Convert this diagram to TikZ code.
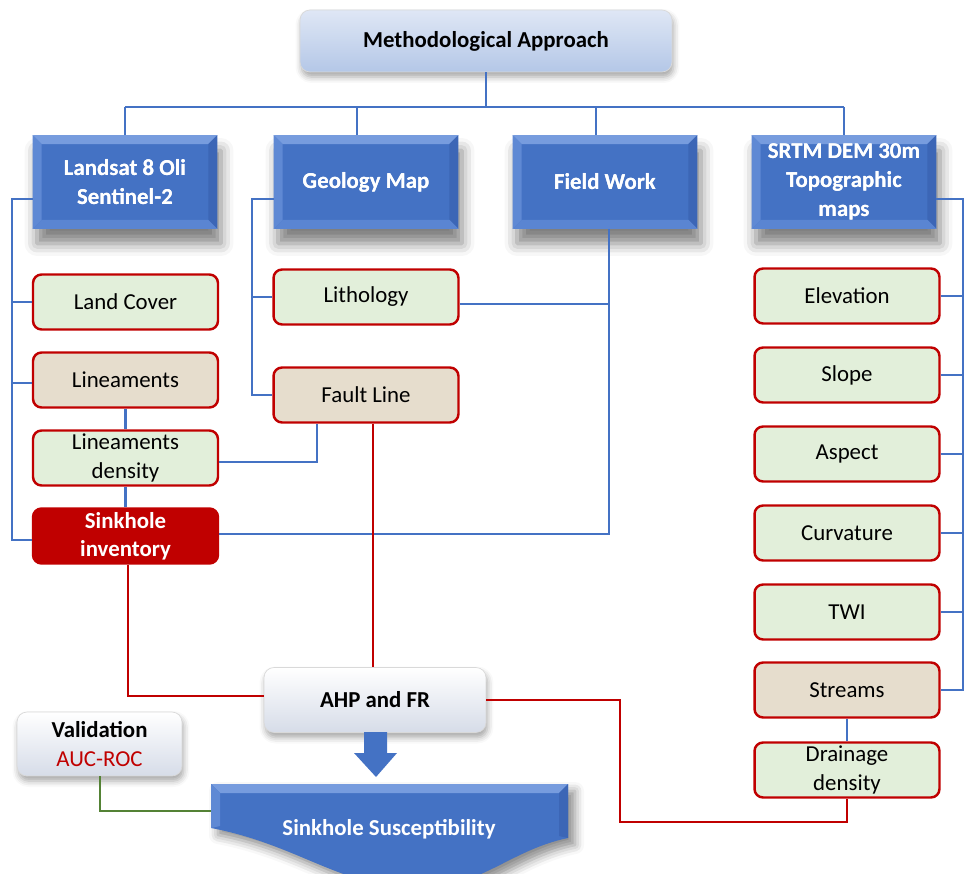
\documentclass[tikz,border=0pt]{standalone}
\usepackage{fontspec}
\setmainfont{Carlito}
\usetikzlibrary{shadows.blur}
\definecolor{bbox}{HTML}{4472C4}
\definecolor{bevtop}{HTML}{779CDE}
\definecolor{bevleft}{HTML}{5F89D4}
\definecolor{bevbot}{HTML}{5A85D2}
\definecolor{bevright}{HTML}{3C66B6}
\definecolor{redc}{HTML}{C00000}
\definecolor{greenf}{HTML}{E2EFDA}
\definecolor{tanf}{HTML}{E6DDCD}
\definecolor{linec}{HTML}{4472C4}
\definecolor{grnl}{HTML}{548235}
\definecolor{titletop}{HTML}{DFE7F5}
\definecolor{titlebot}{HTML}{B4C7E7}
\definecolor{softbot}{HTML}{D6DCE8}
\newcommand\bevelit[1]{%
  \fill[bevtop] (#1.north west) -- (#1.north east) -- ([shift={(-0.18cm,-0.18cm)}]#1.north east) -- ([shift={(0.18cm,-0.18cm)}]#1.north west) -- cycle;
  \fill[bevleft] (#1.north west) -- ([shift={(0.18cm,-0.18cm)}]#1.north west) -- ([shift={(0.18cm,0.18cm)}]#1.south west) -- (#1.south west) -- cycle;
  \fill[bevright] (#1.north east) -- ([shift={(-0.18cm,-0.18cm)}]#1.north east) -- ([shift={(-0.18cm,0.18cm)}]#1.south east) -- (#1.south east) -- cycle;
  \fill[bevbot] (#1.south west) -- (#1.south east) -- ([shift={(-0.18cm,0.18cm)}]#1.south east) -- ([shift={(0.18cm,0.18cm)}]#1.south west) -- cycle;
}
\begin{document}
\begin{tikzpicture}[x=0.02cm,y=-0.02cm,
  topbox/.style={fill=bbox, minimum width=3.68cm, minimum height=1.86cm, inner sep=1pt,
    text=white, font=\bfseries\fontsize{13}{16.5}\selectfont, align=center,
    blur shadow={shadow xshift=0.08cm, shadow yshift=-0.3cm, shadow blur radius=0.25cm, shadow opacity=50}},
  toptext/.style={text=white, font=\bfseries\fontsize{13}{16.5}\selectfont, align=center},
  smallbox/.style={draw=redc, line width=1.4pt, rounded corners=0.17cm, minimum width=3.7cm,
    minimum height=1.1cm, inner sep=1pt, font=\fontsize{13}{16}\selectfont, align=center},
  gbox/.style={smallbox, fill=greenf},
  tbox/.style={smallbox, fill=tanf},
  softbox/.style={rounded corners=0.2cm, top color=white, bottom color=softbot, draw=black!15,
    inner sep=1pt, align=center,
    blur shadow={shadow xshift=0.03cm, shadow yshift=-0.1cm, shadow blur radius=0.12cm, shadow opacity=35}},
  bl/.style={draw=linec, line width=1.3pt},
  rl/.style={draw=redc, line width=1.3pt},
  gl/.style={draw=grnl, line width=1.3pt}]
\useasboundingbox (0,0) rectangle (967,874);

% title
\node[softbox, top color=titletop, bottom color=titlebot,
  minimum width=7.44cm, minimum height=1.24cm, font=\bfseries\fontsize{13}{16}\selectfont] (title) at (486,41) {Methodological Approach};

% top blue boxes
\node[topbox] (landsat) at (125,182) {Landsat 8 Oli\\Sentinel-2};
\node[topbox] (geology) at (366,182) {Geology Map};
\node[topbox] (field) at (605,182) {Field Work};
\node[topbox] (srtm) at (844,182) {SRTM DEM 30m\\Topographic\\maps};
\bevelit{landsat}\bevelit{geology}\bevelit{field}\bevelit{srtm}
\node[toptext] at (landsat) {Landsat 8 Oli\\Sentinel-2};
\node[toptext] at (geology) {Geology Map};
\node[toptext] at (field) {Field Work};
\node[toptext] at (srtm) {SRTM DEM 30m\\Topographic\\maps};

% left column
\node[gbox] (landcover) at (125.5,302) {Land Cover};
\node[tbox] (lin) at (125.5,380) {Lineaments};
\node[gbox] (dens) at (125.5,458) {Lineaments\\density};
\node[smallbox, fill=redc, text=white, font=\bfseries\fontsize{13}{16}\selectfont] (sinkinv) at (125.5,536) {Sinkhole\\inventory};

% geology column
\node[gbox] (lith) at (366,297) {Lithology};
\node[tbox] (fault) at (366,395) {Fault Line};

% right column
\node[gbox] (elev) at (847,296) {Elevation};
\node[gbox] (slope) at (847,375) {Slope};
\node[gbox] (aspect) at (847,454) {Aspect};
\node[gbox] (curv) at (847,533) {Curvature};
\node[gbox] (twi) at (847,612) {TWI};
\node[tbox] (streams) at (847,690) {Streams};
\node[gbox] (drain) at (847,770) {Drainage\\density};

% AHP and validation
\node[softbox, minimum width=4.44cm, minimum height=1.3cm,
  font=\bfseries\fontsize{13}{16}\selectfont] (ahp) at (375,700) {AHP and FR};
\node[softbox, minimum width=3.3cm, minimum height=1.28cm,
  font=\fontsize{13}{16}\selectfont] (valid) at (99.5,744) {\textbf{Validation}\\\textcolor{redc}{AUC-ROC}};

% susceptibility shape
\fill[bbox, blur shadow={shadow xshift=0.14cm, shadow yshift=-0.14cm, shadow blur radius=0.18cm, shadow opacity=45}]
  (211,784) -- (568,784) -- (568,838) .. controls (510,850) and (480,888) .. (420,888)
  .. controls (340,888) and (300,845) .. (211,828) -- cycle;
\fill[bevtop] (211,784) -- (568,784) -- (559,793) -- (220,793) -- cycle;
\fill[bevleft] (211,784) -- (220,793) -- (220,826) -- (211,828) -- cycle;
\fill[bevright] (568,784) -- (559,793) -- (559,836) -- (568,838) -- cycle;
\node[text=white, font=\bfseries\fontsize{13}{16}\selectfont] (susc) at (389,829) {Sinkhole Susceptibility};
\coordinate (suscW) at (211,811);

% arrow
\fill[bbox] (364,732) -- (387,732) -- (387,753) -- (397,753) -- (376,777) -- (354,753) -- (364,753) -- cycle;

% top connectors
\coordinate (hL) at (125,107);
\coordinate (hR) at (844,107);
\coordinate (hG) at (357,107);
\coordinate (hF) at (596,107);
\draw[bl] (title.south) -- (title.south |- hL);
\draw[bl] (hL) -- (hR);
\draw[bl] (hL) -- (landsat.north);
\draw[bl] (hG) -- (hG |- geology.north);
\draw[bl] (hF) -- (hF |- field.north);
\draw[bl] (hR) -- (srtm.north);

% left trunk
\coordinate (lt) at (12,199);
\coordinate (lb) at (12,540);
\coordinate (lm) at (12,383);
\draw[bl] (landsat.west |- lt) -- (lt) -- (lb) -- (sinkinv.west |- lb);
\draw[bl] (lt |- landcover.west) -- (landcover.west);
\draw[bl] (lm) -- (lin.west |- lm);
\draw[bl] (lin.south) -- (dens.north);
\draw[bl] (dens.south) -- (sinkinv.north);

% geology trunk
\coordinate (gt) at (252,199);
\draw[bl] (geology.west |- gt) -- (gt) -- (gt |- fault.west) -- (fault.west);
\draw[bl] (gt |- lith.west) -- (lith.west);

% field trunk
\coordinate (ft) at (609,534);
\coordinate (fl) at (609,304);
\draw[bl] (field.south -| ft) -- (ft) -- (ft -| sinkinv.east);
\draw[bl] (lith.east |- fl) -- (fl);

% density to fault
\coordinate (dt) at (317,462);
\draw[bl] (dens.east |- dt) -- (dt) -- (dt |- fault.south);

% right trunk
\coordinate (rt) at (963,199);
\draw[bl] (srtm.east |- rt) -- (rt) -- (rt |- streams.east) -- (streams.east);
\foreach \n in {elev,slope,aspect,curv,twi} \draw[bl] (\n.east) -- (rt |- \n.east);
\draw[bl] (streams.south) -- (drain.north);

% red connectors
\coordinate (r1) at (128,696);
\draw[rl] (sinkinv.south -| r1) -- (r1) -- (r1 -| ahp.west);
\coordinate (r2) at (373,600);
\draw[rl] (fault.south -| r2) -- (ahp.north -| r2);
\coordinate (r3) at (620,822);
\draw[rl] (ahp.east) -| (r3) -| (drain.south);

% green connector
\coordinate (g1) at (100,811);
\draw[gl] (valid.south -| g1) -- (g1) -- (suscW);
\end{tikzpicture}
\end{document}
